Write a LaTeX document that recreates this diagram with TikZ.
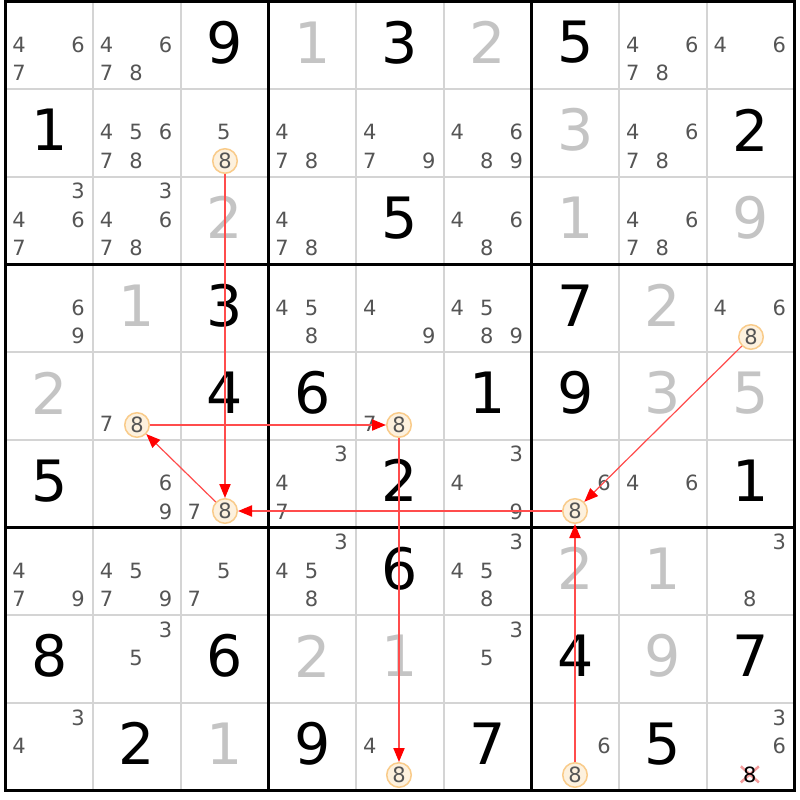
\documentclass[tikz,border=0pt]{standalone}
\usepackage{fontspec}
\setmainfont{DejaVu Sans}
\usetikzlibrary{arrows.meta}
\definecolor{candc}{HTML}{555555}
\definecolor{solvedc}{HTML}{C4C4C4}
\definecolor{thinc}{HTML}{D4D4D4}
\definecolor{hlfill}{HTML}{FDF1DE}
\definecolor{hldraw}{HTML}{F9CB8A}
\definecolor{linkc}{HTML}{FF4C4C}
\definecolor{crossc}{HTML}{F28A8A}
\newcommand\CS{87.67}
\tikzset{
  givend/.style={font=\fontsize{57}{57}\selectfont, text=black, inner sep=0pt},
  solvedd/.style={givend, text=solvedc},
  candd/.style={font=\fontsize{21}{21}\selectfont, text=candc, inner sep=0pt},
  hl/.style={circle, draw=hldraw, fill=hlfill, line width=1.5pt, minimum size=24.5pt, inner sep=0pt, font=\fontsize{21}{21}\selectfont, text=candc},
  link/.style={draw=linkc, line width=2pt, -{Triangle[length=14pt,width=11pt,color=red]}},
  difflink/.style={link, line width=1.2pt},
  thinline/.style={draw=thinc, line width=2pt},
  thickline/.style={draw=black, line width=3pt},
}
\begin{document}
\begin{tikzpicture}[x=1pt,y=-1pt]
\useasboundingbox (0,0) rectangle (800,800);
\fill[white] (0,0) rectangle (800,800);
% thin grid lines
\foreach \i in {1,2,4,5,7,8} {
  \draw[thinline] ({5.5+\i*\CS},1.5) -- ({5.5+\i*\CS},{1.5+9*\CS});
  \draw[thinline] (5.5,{1.5+\i*\CS}) -- ({5.5+9*\CS},{1.5+\i*\CS});
}
% thick grid lines
\foreach \i in {0,3,6,9} {
  \draw[thickline] ({5.5+\i*\CS},0) -- ({5.5+\i*\CS},{3+9*\CS});
  \draw[thickline] (4,{1.5+\i*\CS}) -- ({7+9*\CS},{1.5+\i*\CS});
}
% given digits
\foreach \r/\c/\d in {0/2/9,0/4/3,0/6/5,1/0/1,1/8/2,2/4/5,3/2/3,3/6/7,4/2/4,4/3/6,4/5/1,4/6/9,5/0/5,5/4/2,5/8/1,6/4/6,7/0/8,7/2/6,7/6/4,7/8/7,8/1/2,8/3/9,8/5/7,8/7/5}
  \node[givend] (g-\r-\c) at ({5.5+(\c+0.5)*\CS},{1.5+(\r+0.5)*\CS-3}) {\d};
% solved digits
\foreach \r/\c/\d in {0/3/1,0/5/2,1/6/3,2/2/2,2/6/1,2/8/9,3/1/1,3/7/2,4/0/2,4/7/3,4/8/5,6/6/2,6/7/1,7/3/2,7/4/1,7/7/9,8/2/1}
  \node[solvedd] (s-\r-\c) at ({5.5+(\c+0.5)*\CS},{1.5+(\r+0.5)*\CS-3}) {\d};
% candidates
\foreach \r/\c/\L in {0/0/{4,6,7},0/1/{4,6,7,8},0/7/{4,6,7,8},0/8/{4,6},
  1/1/{4,5,6,7,8},1/2/{5},1/3/{4,7,8},1/4/{4,7,9},1/5/{4,6,8,9},1/7/{4,6,7,8},
  2/0/{3,4,6,7},2/1/{3,4,6,7,8},2/3/{4,7,8},2/5/{4,6,8},2/7/{4,6,7,8},
  3/0/{6,9},3/3/{4,5,8},3/4/{4,9},3/5/{4,5,8,9},3/8/{4,6},
  4/1/{7},4/4/{7},
  5/1/{6,9},5/2/{7},5/3/{3,4,7},5/5/{3,4,9},5/6/{6},5/7/{4,6},
  6/0/{4,7,9},6/1/{4,5,7,9},6/2/{5,7},6/3/{3,4,5,8},6/5/{3,4,5,8},6/8/{3,8},
  7/1/{3,5},7/5/{3,5},
  8/0/{3,4},8/4/{4},8/6/{6},8/8/{3,6}}
{
  \foreach \k in \L {
    \pgfmathtruncatemacro\ci{mod(\k-1,3)}
    \pgfmathtruncatemacro\ri{int((\k-1)/3)}
    \node[candd] (k-\r-\c-\k) at ({5.5+\c*\CS+13.5+29.5*\ci},{1.5+\r*\CS+14.5+28.5*\ri}) {\k};
  }
}
% highlighted candidates (8), positions aligned to whole pixels
\foreach \n/\x/\y in {a/225/161,b/225/511,c/137/425,d/399/425,e/399/775,f/751/337,g/575/511,h/575/775}
  \node[hl] (h\n) at (\x,\y) {8};
% crossed candidate
\node[font=\fontsize{21}{21}\selectfont, inner sep=0pt] (x8) at ({5.5+8*\CS+43},{1.5+8*\CS+71.5}) {\phantom{8}};
\draw[crossc, line width=2.5pt, opacity=0.85] ([shift={(-9,-8)}]x8.center) -- ([shift={(9,8)}]x8.center);
\draw[crossc, line width=2.5pt, opacity=0.85] ([shift={(9,-8)}]x8.center) -- ([shift={(-9,8)}]x8.center);
\node[font=\fontsize{21}{21}\selectfont, text=black, inner sep=0pt] (x8t) at (x8.center) {8};
% links
\draw[link] (ha) -- (hb);
\draw[difflink] (hb) -- (hc);
\draw[link] (hc) -- (hd);
\draw[link] (hd) -- (he);
\draw[difflink] (hf) -- (hg);
\draw[link] (hg) -- (hb);
\draw[link] (hh) -- (hg);
\end{tikzpicture}
\end{document}
